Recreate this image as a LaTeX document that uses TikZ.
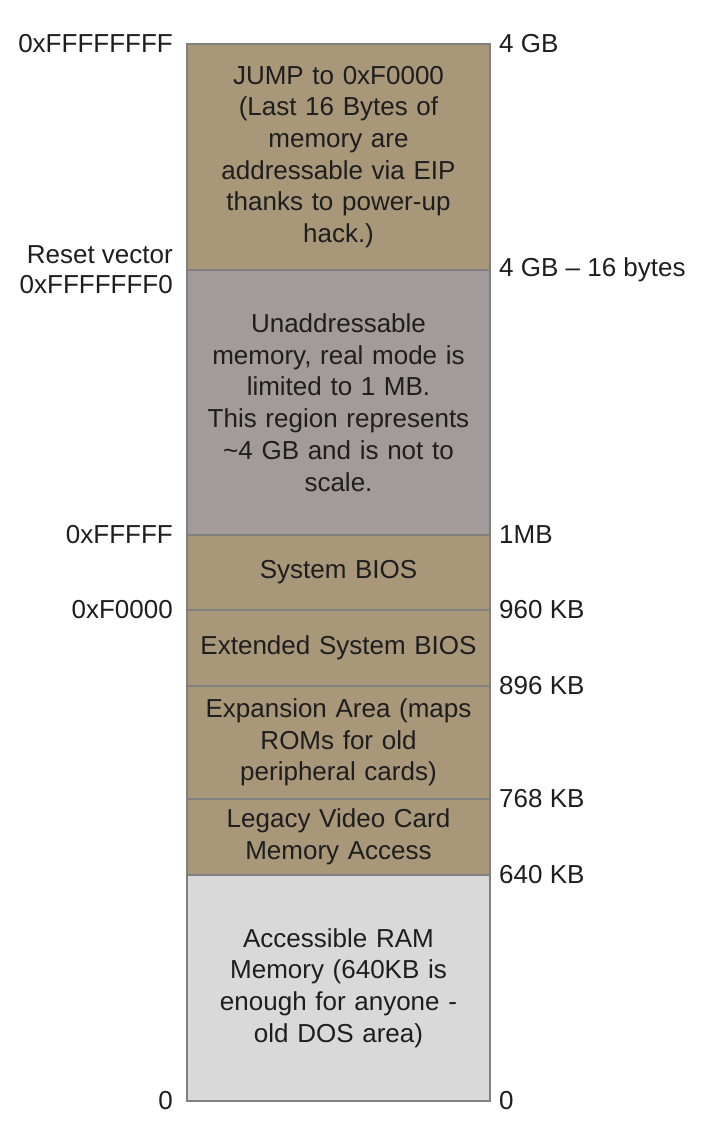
\documentclass[tikz,border=0pt]{standalone}
\usepackage{fontspec}
\setmainfont{Liberation Sans}
\usetikzlibrary{positioning}
\definecolor{romtan}{RGB}{168,151,121}
\definecolor{hidegray}{RGB}{163,154,155}
\definecolor{ramgray}{RGB}{217,217,217}
\definecolor{edgegray}{RGB}{128,128,128}
\definecolor{inkdark}{RGB}{30,30,30}
\tikzset{
  region/.style={draw=edgegray, line width=1.2pt, outer sep=0pt, minimum width=303pt,
    text width=297pt, align=center, inner sep=0pt, text=inkdark,
    font=\fontsize{26}{31.7}\selectfont},
  addrl/.style={anchor=east, inner sep=0pt, align=right, text=inkdark,
    font=\fontsize{26}{30}\selectfont},
  addrr/.style={anchor=west, inner sep=0pt, align=left, text=inkdark,
    font=\fontsize{26}{30}\selectfont}
}
\begin{document}
\begin{tikzpicture}[x=1pt,y=1pt,yscale=-1,xscale=1]
\useasboundingbox (0,0) rectangle (701,1135);
\node [region, fill=romtan, minimum height=226pt, anchor=north west] (jump) at (187,44)
  {JUMP to 0xF0000\\(Last 16 Bytes of\\memory are\\addressable via EIP\\thanks to power-up\\hack.)};
\node [region, fill=hidegray, minimum height=265pt, below=0pt of jump] (unaddr)
  {Unaddressable\\memory, real mode is\\limited to 1 MB.\\This region represents\\\textasciitilde4 GB and is not to\\scale.};
\node [region, fill=romtan, minimum height=75pt, below=0pt of unaddr] (sysbios) {System BIOS};
\node [region, fill=romtan, minimum height=76pt, below=0pt of sysbios] (extbios) {Extended System BIOS};
\node [region, fill=romtan, minimum height=113pt, below=0pt of extbios] (expansion)
  {Expansion Area (maps\\ROMs for old\\peripheral cards)};
\node [region, fill=romtan, minimum height=76pt, below=0pt of expansion] (video)
  {Legacy Video Card\\Memory Access};
\node [region, fill=ramgray, minimum height=226pt, below=0pt of video] (ram)
  {Accessible RAM\\Memory (640KB is\\enough for anyone -\\old DOS area)};

\node [addrl, left=14pt of jump.north west] (topaddr) {0xFFFFFFFF};
\node [addrl, left=14pt of unaddr.north west] (resetaddr) {Reset vector\\0xFFFFFFF0};
\node [addrl, left=14pt of sysbios.north west] (mbaddr) {0xFFFFF};
\node [addrl, left=14pt of extbios.north west] (biosaddr) {0xF0000};
\node [addrl, left=14pt of ram.south west] (zeroaddr) {0};

\node [addrr, right=9pt of jump.north east] (topsize) {4 GB};
\node [addrr, right=9pt of unaddr.north east] (resetsize) {4 GB -- 16 bytes};
\node [addrr, right=9pt of sysbios.north east] (mbsize) {1MB};
\node [addrr, right=9pt of extbios.north east] (biossize) {960 KB};
\node [addrr, right=9pt of expansion.north east] (expsize) {896 KB};
\node [addrr, right=9pt of video.north east] (videosize) {768 KB};
\node [addrr, right=9pt of ram.north east] (ramsize) {640 KB};
\node [addrr, right=9pt of ram.south east] (zerosize) {0};
\end{tikzpicture}
\end{document}
